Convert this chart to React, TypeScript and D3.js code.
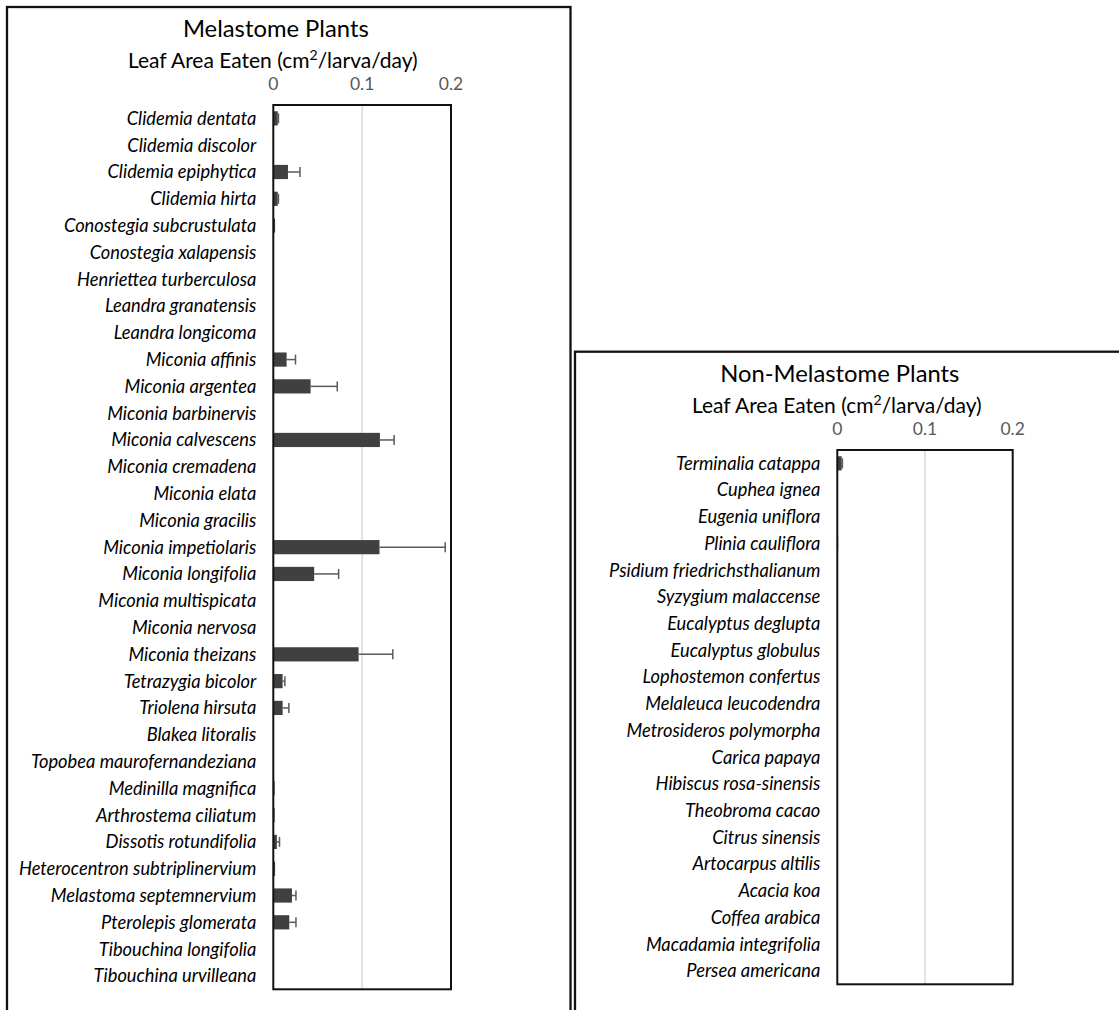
import React from "react";
import * as d3 from "d3";

const melastomeNames = [
  "Clidemia dentata", "Clidemia discolor", "Clidemia epiphytica", "Clidemia hirta",
  "Conostegia subcrustulata", "Conostegia xalapensis", "Henriettea turberculosa",
  "Leandra granatensis", "Leandra longicoma", "Miconia affinis", "Miconia argentea",
  "Miconia barbinervis", "Miconia calvescens", "Miconia cremadena", "Miconia elata",
  "Miconia gracilis", "Miconia impetiolaris", "Miconia longifolia", "Miconia multispicata",
  "Miconia nervosa", "Miconia theizans", "Tetrazygia bicolor", "Triolena hirsuta",
  "Blakea litoralis", "Topobea maurofernandeziana", "Medinilla magnifica",
  "Arthrostema ciliatum", "Dissotis rotundifolia", "Heterocentron subtriplinervium",
  "Melastoma septemnervium", "Pterolepis glomerata", "Tibouchina longifolia",
  "Tibouchina urvilleana",
];
const melastomeMeans = [
  0.005, 0, 0.0165, 0.005, 0.002, 0, 0, 0, 0, 0.015, 0.042, 0, 0.12, 0, 0, 0, 0.1195,
  0.046, 0, 0, 0.096, 0.0105, 0.0105, 0, 0, 0.0015, 0.0015, 0.004, 0.002, 0.021, 0.018,
  0, 0,
];
const melastomeErrors = [
  0.0008, 0, 0.0135, 0.0008, 0, 0, 0, 0, 0, 0.01, 0.03, 0, 0.016, 0, 0, 0, 0.074,
  0.0275, 0, 0, 0.0385, 0.0025, 0.007, 0, 0, 0, 0, 0.003, 0, 0.0045, 0.0075, 0, 0,
];

const nonMelastomeNames = [
  "Terminalia catappa", "Cuphea ignea", "Eugenia uniflora", "Plinia cauliflora",
  "Psidium friedrichsthalianum", "Syzygium malaccense", "Eucalyptus deglupta",
  "Eucalyptus globulus", "Lophostemon confertus", "Melaleuca leucodendra",
  "Metrosideros polymorpha", "Carica papaya", "Hibiscus rosa-sinensis",
  "Theobroma cacao", "Citrus sinensis", "Artocarpus altilis", "Acacia koa",
  "Coffea arabica", "Macadamia integrifolia", "Persea americana",
];
const nonMelastomeMeans = [
  0.005, 0, 0, 0.001, 0, 0, 0, 0, 0, 0, 0, 0, 0, 0, 0, 0, 0, 0, 0, 0,
];
const nonMelastomeErrors = [
  0.0008, 0, 0, 0, 0, 0, 0, 0, 0, 0, 0, 0, 0, 0, 0, 0, 0, 0, 0, 0,
];

const xTicks = [0, 0.1, 0.2];
const titles = ["Melastome Plants", "Non-Melastome Plants"];

const FONT = "Lato, 'Open Sans', sans-serif";

type PanelProps = {
  title: string;
  names: string[];
  means: number[];
  errors: number[];
  frame: { x: number; y: number; w: number; h: number };
  plot: { x0: number; x1: number; y0: number; y1: number };
};

function Panel({ title, names, means, errors, frame, plot }: PanelProps) {
  const x = d3.scaleLinear().domain([0, 0.2]).range([plot.x0, plot.x1]);
  const y = d3
    .scaleBand<string>()
    .domain(names)
    .range([plot.y0, plot.y1])
    .paddingInner(0.47)
    .paddingOuter(0.235);
  const bh = y.bandwidth();
  const cx = plot.x0 + 1.5;
  return (
    <g>
      <rect
        x={frame.x}
        y={frame.y}
        width={frame.w}
        height={frame.h}
        fill="#fff"
        stroke="#111"
        strokeWidth={2.3}
      />
      <text
        x={cx + 1}
        y={frame.y + 30}
        textAnchor="middle"
        fontFamily={FONT}
        fontSize={23.8}
        fill="#000"
      >
        {title}
      </text>
      <text
        x={cx - 2}
        y={frame.y + 61}
        textAnchor="middle"
        fontFamily={FONT}
        fontSize={21}
        fill="#000"
      >
        <tspan>Leaf Area Eaten (cm</tspan>
        <tspan dy={-8} fontSize={14}>2</tspan>
        <tspan dy={8}>/larva/day)</tspan>
      </text>
      {xTicks.map((t) => (
        <text
          key={t}
          x={x(t)}
          y={plot.y0 - 15}
          textAnchor="middle"
          fontFamily={FONT}
          fontSize={17.5}
          fill="#595959"
        >
          {String(t)}
        </text>
      ))}
      {xTicks
        .filter((t) => t > 0 && t < 0.2)
        .map((t) => (
          <line
            key={"g" + t}
            x1={x(t)}
            x2={x(t)}
            y1={plot.y0}
            y2={plot.y1}
            stroke="#d9d9d9"
            strokeWidth={1.5}
          />
        ))}
      {names.map((n) => (
        <text
          key={"l" + n}
          x={plot.x0 - 17}
          y={(y(n) as number) + bh / 2}
          dy="0.35em"
          textAnchor="end"
          fontFamily={FONT}
          fontStyle="italic"
          fontSize={18.3}
          fill="#000"
        >
          {n}
        </text>
      ))}
      {names.map((n, i) =>
        means[i] > 0 ? (
          <rect
            key={"b" + n}
            x={x(0)}
            y={y(n) as number}
            width={x(means[i]) - x(0)}
            height={bh}
            fill="#404040"
          />
        ) : null
      )}
      {names.map((n, i) => {
        if (!(means[i] > 0) || !(errors[i] > 0)) return null;
        const yc = (y(n) as number) + bh / 2;
        const xe = x(means[i] + errors[i]);
        return (
          <g key={"e" + n} stroke="#5a5a5a" strokeWidth={1.5}>
            <line x1={x(means[i])} x2={xe} y1={yc} y2={yc} />
            <line x1={xe} x2={xe} y1={yc - 5} y2={yc + 5} />
          </g>
        );
      })}
      <rect
        x={plot.x0}
        y={plot.y0}
        width={plot.x1 - plot.x0}
        height={plot.y1 - plot.y0}
        fill="none"
        stroke="#111"
        strokeWidth={2}
      />
    </g>
  );
}

export default function App() {
  return (
    <svg
      width={1119}
      height={1010}
      style={{ position: "absolute", left: 0, top: 0, background: "#fff" }}
    >
      <rect x={0} y={0} width={1119} height={1010} fill="#fff" />
      <Panel
        title={titles[0]}
        names={melastomeNames}
        means={melastomeMeans}
        errors={melastomeErrors}
        frame={{ x: 7, y: 7, w: 563.5, h: 1030 }}
        plot={{ x0: 273.3, x1: 451, y0: 105, y1: 989.3 }}
      />
      <Panel
        title={titles[1]}
        names={nonMelastomeNames}
        means={nonMelastomeMeans}
        errors={nonMelastomeErrors}
        frame={{ x: 575, y: 351.7, w: 600, h: 700 }}
        plot={{ x0: 837.3, x1: 1012.7, y0: 450, y1: 984.3 }}
      />
    </svg>
  );
}
